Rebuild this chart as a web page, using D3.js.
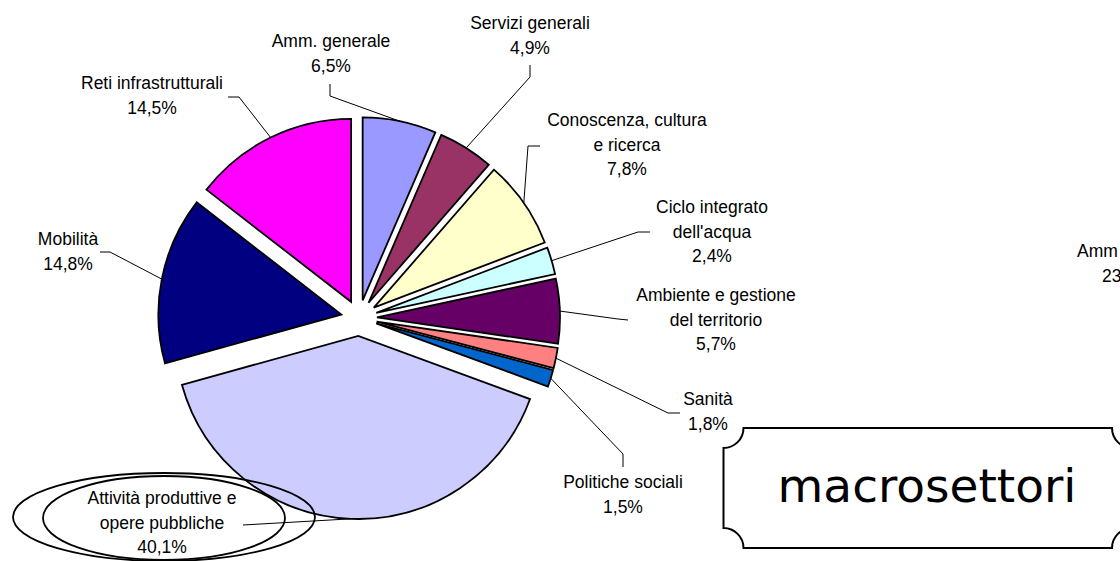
<!DOCTYPE html>
<html>
<head>
<meta charset="utf-8">
<script src="https://cdn.jsdelivr.net/npm/d3@7"></script>
<style>
  html, body { margin: 0; padding: 0; background: #fff; }
  svg { display: block; }
</style>
</head>
<body>
<svg id="chart" width="1120" height="561"></svg>
<script>
// ---- data ----
const categories = [
  "Amm. generale",
  "Servizi generali",
  "Conoscenza, cultura|e ricerca",
  "Ciclo integrato|dell'acqua",
  "Ambiente e gestione|del territorio",
  "Sanità",
  "Politiche sociali",
  "Attività produttive e|opere pubbliche",
  "Mobilità",
  "Reti infrastrutturali"
];
const values = [6.5, 4.9, 7.8, 2.4, 5.7, 1.8, 1.5, 40.1, 14.8, 14.5];
const sliceColors = ["#9999FF", "#993366", "#FFFFCC", "#CCFFFF", "#660066",
                     "#FF8080", "#0066CC", "#CCCCFF", "#000080", "#FF00FF"];
const boxTitle = "macrosettori";
const secondChartLabel = ["Amm", "23"];

// ---- layout (label anchors & leader start points) ----
const labelLayout = [
  { x: 331, y: 47,  lead: [[330, 84], [330, 96]] },
  { x: 530, y: 29,  lead: [[530, 65], [530, 77]] },
  { x: 627, y: 126, lead: [[540, 146], [528, 146]] },
  { x: 712, y: 213, lead: [[650, 232], [638, 232]] },
  { x: 716, y: 301, lead: [[628, 320], [618, 319]] },
  { x: 708, y: 405, lead: [[680, 413], [668, 413]] },
  { x: 623, y: 488, lead: [[623, 467], [623, 454]] },
  { x: 162, y: 504, lead: [[243, 525]] },
  { x: 68,  y: 245, lead: [[100, 252], [110, 252]] },
  { x: 152, y: 89,  lead: [[228, 97], [239, 97]] }
];
const lineGap = 24.5;

const svg = d3.select("#chart");
const labelFont = "'Liberation Sans', Arial, sans-serif";

const cx = 359, cy = 318, R = 183, explode = 18;

const pie = d3.pie().sort(null).value(d => d).startAngle(0).endAngle(2 * Math.PI);
const arcs = pie(values);
const arcGen = d3.arc().innerRadius(0).outerRadius(R);
const edgeGen = d3.arc().innerRadius(R).outerRadius(R);

const g = svg.append("g").attr("transform", `translate(${cx},${cy})`);

function offset(a) {
  const m = (a.startAngle + a.endAngle) / 2;
  return [explode * Math.sin(m), -explode * Math.cos(m)];
}

g.selectAll("path.slice")
  .data(arcs)
  .join("path")
  .attr("class", "slice")
  .attr("transform", d => { const o = offset(d); return `translate(${o[0]},${o[1]})`; })
  .attr("d", arcGen)
  .attr("fill", (d, i) => sliceColors[i])
  .attr("stroke", "#000")
  .attr("stroke-width", 1.8)
  .attr("stroke-linejoin", "miter");

// leader lines
const fmt = d3.format(".1f");
arcs.forEach((a, i) => {
  const o = offset(a);
  const c = edgeGen.centroid(a);
  const end = [cx + c[0] + o[0], cy + c[1] + o[1]];
  const pts = labelLayout[i].lead.concat([end]);
  svg.append("path")
    .attr("d", d3.line()(pts))
    .attr("fill", "none")
    .attr("stroke", "#000")
    .attr("stroke-width", 1);
});

// labels
arcs.forEach((a, i) => {
  const lines = categories[i].split("|").concat([fmt(values[i]).replace(".", ",") + "%"]);
  const t = svg.append("text")
    .attr("x", labelLayout[i].x)
    .attr("y", labelLayout[i].y)
    .attr("text-anchor", "middle")
    .attr("font-family", labelFont)
    .attr("font-size", 17.5)
    .attr("fill", "#000");
  lines.forEach((ln, k) => {
    t.append("tspan")
      .attr("x", labelLayout[i].x)
      .attr("y", labelLayout[i].y + k * lineGap)
      .text(ln);
  });
});

// ellipses around the largest label
svg.append("ellipse")
  .attr("cx", 164).attr("cy", 517).attr("rx", 151).attr("ry", 44)
  .attr("fill", "none").attr("stroke", "#000").attr("stroke-width", 1.8);
svg.append("ellipse")
  .attr("cx", 164).attr("cy", 518).attr("rx", 121).attr("ry", 42)
  .attr("fill", "none").attr("stroke", "#000").attr("stroke-width", 1.8);

// second (cropped) chart label at right edge
svg.append("text")
  .attr("x", 1077).attr("y", 257)
  .attr("font-family", labelFont).attr("font-size", 17.5)
  .text(secondChartLabel[0]);
svg.append("text")
  .attr("x", 1102).attr("y", 282)
  .attr("font-family", labelFont).attr("font-size", 17.5)
  .text(secondChartLabel[1]);

// plaque box "macrosettori"
const bx0 = 723.5, by0 = 428, bx1 = 1132, by1 = 548, cr = 20;
const plaque = d3.path();
plaque.moveTo(bx0 + cr, by0);
plaque.lineTo(bx1 - cr, by0);
plaque.arc(bx1, by0, cr, Math.PI, Math.PI / 2, true);
plaque.lineTo(bx1, by1 - cr);
plaque.arc(bx1, by1, cr, -Math.PI / 2, -Math.PI, true);
plaque.lineTo(bx0 + cr, by1);
plaque.arc(bx0, by1, cr, 0, -Math.PI / 2, true);
plaque.lineTo(bx0, by0 + cr);
plaque.arc(bx0, by0, cr, Math.PI / 2, 0, true);
plaque.closePath();
svg.append("path")
  .attr("d", plaque.toString())
  .attr("fill", "#fff")
  .attr("stroke", "#000")
  .attr("stroke-width", 2);

svg.append("text")
  .attr("x", 927).attr("y", 502)
  .attr("text-anchor", "middle")
  .attr("font-family", "'DejaVu Sans', Verdana, sans-serif")
  .attr("font-size", 47)
  .attr("fill", "#000")
  .text(boxTitle);
</script>
</body>
</html>
